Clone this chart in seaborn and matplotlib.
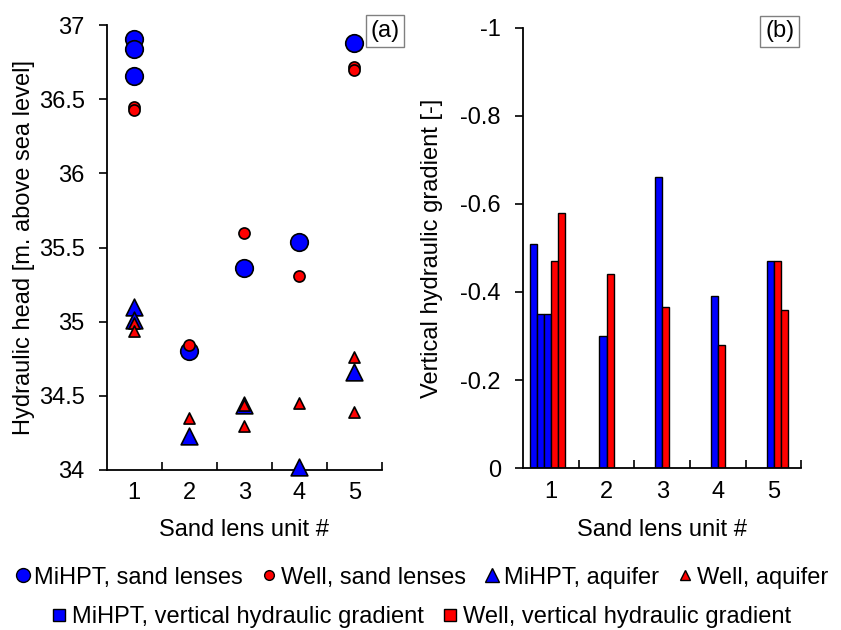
import matplotlib
matplotlib.use('Agg')
import matplotlib.pyplot as plt
import seaborn as sns
import numpy as np
import pandas as pd
from matplotlib.lines import Line2D
from matplotlib.ticker import FuncFormatter

# Panel (a): hydraulic head per sand lens unit
mihpt_sand_unit = [1, 1, 1, 2, 3, 4, 5]
mihpt_sand_head = [36.91, 36.84, 36.66, 34.80, 35.36, 35.54, 36.88]
well_sand_unit = [1, 1, 2, 3, 4, 5, 5]
well_sand_head = [36.45, 36.43, 34.84, 35.60, 35.31, 36.72, 36.70]
mihpt_aq_unit = [1, 1, 2, 3, 4, 5]
mihpt_aq_head = [35.10, 35.01, 34.23, 34.44, 34.02, 34.66]
well_aq_unit = [1, 1, 2, 3, 3, 4, 5, 5]
well_aq_head = [34.99, 34.94, 34.35, 34.44, 34.30, 34.45, 34.76, 34.39]

# Panel (b): vertical hydraulic gradient per sand lens unit
units = ['1', '2', '3', '4', '5']
mihpt_grad = [[-0.51, -0.35, -0.35], [-0.30], [-0.66], [-0.39], [-0.47]]
well_grad = [[-0.47, -0.58], [-0.44], [-0.365], [-0.28], [-0.47, -0.36]]

blue = '#0000FF'
red = '#FF0000'

sns.set_theme(style='ticks')
plt.rcParams['font.family'] = ['Liberation Sans', 'DejaVu Sans']
plt.rcParams['axes.edgecolor'] = 'black'
plt.rcParams['axes.linewidth'] = 1.3
plt.rcParams['text.color'] = 'black'
plt.rcParams['axes.labelcolor'] = 'black'

fig = plt.figure(figsize=(8.41, 6.30), dpi=100)
ax1 = fig.add_axes([0.127, 0.254, 0.327, 0.706])
ax2 = fig.add_axes([0.622, 0.257, 0.331, 0.699])

# scatter panel
kw = dict(edgecolor='black', linewidth=1.2, clip_on=False, ax=ax1, legend=False)
sns.scatterplot(x=mihpt_sand_unit, y=mihpt_sand_head, marker='o', s=160, color=blue, zorder=3, **kw)
sns.scatterplot(x=well_sand_unit, y=well_sand_head, marker='o', s=64, color=red, zorder=4, **kw)
sns.scatterplot(x=mihpt_aq_unit, y=mihpt_aq_head, marker='^', s=145, color=blue, zorder=3, **kw)
sns.scatterplot(x=well_aq_unit, y=well_aq_head, marker='^', s=64, color=red, zorder=4, **kw)

ax1.set_xlim(0.5, 5.5)
ax1.set_ylim(34, 37)
ax1.set_xticks([1, 2, 3, 4, 5])
ax1.set_xticks([1.5, 2.5, 3.5, 4.5, 5.5], minor=True)
ax1.set_yticks(np.arange(34, 37.01, 0.5))
ax1.yaxis.set_major_formatter(FuncFormatter(lambda v, p: f'{round(v, 1) + 0:g}'))

# bar panel: MiHPT bars end at slot 2, Well bars start at slot 3
rows = []
for u, m, w in zip(units, mihpt_grad, well_grad):
    for i, v in enumerate(m):
        rows.append((u, f's{3 - len(m) + i}', v))
    for i, v in enumerate(w):
        rows.append((u, f's{3 + i}', v))
df = pd.DataFrame(rows, columns=['unit', 'slot', 'value'])
slots = ['s0', 's1', 's2', 's3', 's4', 's5']
pal = {'s0': blue, 's1': blue, 's2': blue, 's3': red, 's4': red, 's5': red}
sns.barplot(data=df, x='unit', y='value', hue='slot', order=units, hue_order=slots,
            palette=pal, width=0.768, dodge=True, errorbar=None, saturation=1,
            edgecolor='black', linewidth=1, legend=False, ax=ax2)

ax2.set_xlim(-0.5, 4.5)
ax2.set_ylim(0, -1)
ax2.set_xticks([0.5, 1.5, 2.5, 3.5, 4.5], minor=True)
ax2.set_yticks(np.arange(-1, 0.01, 0.2))
ax2.yaxis.set_major_formatter(FuncFormatter(lambda v, p: f'{round(v, 1) + 0:g}'))

for ax in (ax1, ax2):
    ax.spines[['top', 'right']].set_visible(False)
    ax.tick_params(axis='x', which='major', length=0, pad=9, labelsize=17, colors='black')
    ax.tick_params(axis='x', which='minor', direction='in', length=6, width=1.2, color='black')
    ax.tick_params(axis='y', length=6, width=1.2, pad=10, labelsize=17, colors='black')
    ax.set_xlabel('Sand lens unit #', fontsize=17, color='black')

ax1.set_ylabel('Hydraulic head [m. above sea level]', fontsize=17, color='black')
ax2.set_ylabel('Vertical hydraulic gradient [-]', fontsize=17, color='black')
ax1.yaxis.set_label_coords(-0.26, 0.5)
ax2.yaxis.set_label_coords(-0.288, 0.5)
ax1.xaxis.set_label_coords(0.5, -0.11)
ax2.xaxis.set_label_coords(0.5, -0.116)

box = dict(boxstyle='square,pad=0.2', facecolor='white', edgecolor='#808080', linewidth=1)
fig.text(0.458, 0.951, '(a)', fontsize=17, ha='center', va='center', bbox=box)
fig.text(0.927, 0.950, '(b)', fontsize=17, ha='center', va='center', bbox=box)

leg_font = dict(family=['Liberation Sans', 'DejaVu Sans'], size=17)
h1 = [
    Line2D([], [], ls='', marker='o', markersize=10, markerfacecolor=blue, markeredgecolor='black', label='MiHPT, sand lenses'),
    Line2D([], [], ls='', marker='o', markersize=7, markerfacecolor=red, markeredgecolor='black', label='Well, sand lenses'),
    Line2D([], [], ls='', marker='^', markersize=9.5, markerfacecolor=blue, markeredgecolor='black', label='MiHPT, aquifer'),
    Line2D([], [], ls='', marker='^', markersize=7, markerfacecolor=red, markeredgecolor='black', label='Well, aquifer'),
]
h2 = [
    Line2D([], [], ls='', marker='s', markersize=9, markerfacecolor=blue, markeredgecolor='black', label='MiHPT, vertical hydraulic gradient'),
    Line2D([], [], ls='', marker='s', markersize=9, markerfacecolor=red, markeredgecolor='black', label='Well, vertical hydraulic gradient'),
]
fig.legend(handles=h1, loc='center', bbox_to_anchor=(0.5, 0.083), ncol=4, frameon=False,
           prop=leg_font, handletextpad=0.1, columnspacing=0.7, handlelength=0.8, borderaxespad=0)
fig.legend(handles=h2, loc='center', bbox_to_anchor=(0.5, 0.021), ncol=2, frameon=False,
           prop=leg_font, handletextpad=0.15, columnspacing=0.7, handlelength=0.8, borderaxespad=0)

fig.savefig('out.png', dpi=100)
